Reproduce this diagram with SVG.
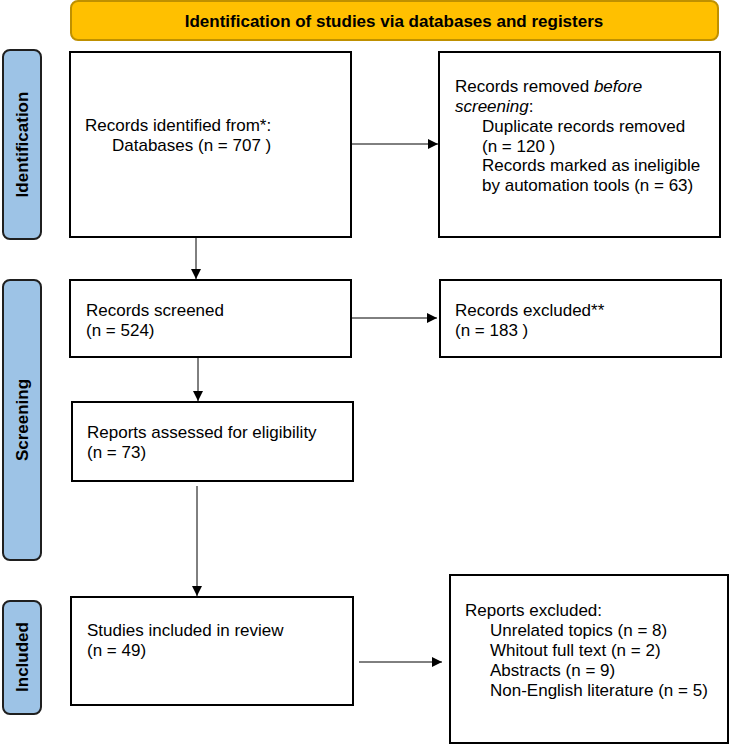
<svg xmlns="http://www.w3.org/2000/svg" width="731" height="745" viewBox="0 0 731 745">
<style>
.box{fill:#fff;stroke:#000;stroke-width:2}
.side{fill:#9DC3E6;stroke:#1f1f1f;stroke-width:2}
.t{font-family:"Liberation Sans",Arial,sans-serif;font-size:17px;fill:#000}
.sl{font-family:"Liberation Sans",Arial,sans-serif;font-size:17px;font-weight:bold;fill:#000;text-anchor:middle}
.c{stroke:#000;stroke-width:1;fill:none;marker-end:url(#ah)}
</style>
<defs>
<marker id="ah" viewBox="0 0 10 10" refX="10" refY="5" markerWidth="10" markerHeight="10" markerUnits="userSpaceOnUse" orient="auto">
<path d="M0,0 L10,5 L0,10 Z" fill="#000"/>
</marker>
</defs>
<g id="header">
<rect x="71" y="1" width="647" height="39" rx="7" fill="#FFC000" stroke="#BF9000" stroke-width="2"/>
<text x="394" y="27" class="sl">Identification of studies via databases and registers</text>
</g>
<g id="side-identification">
<rect x="3" y="50" width="38" height="189" rx="7" class="side"/>
<text class="sl" transform="translate(28,144.5) rotate(-90)">Identification</text>
</g>
<g id="side-screening">
<rect x="3" y="280" width="38" height="280" rx="7" class="side"/>
<text class="sl" transform="translate(28,420) rotate(-90)">Screening</text>
</g>
<g id="side-included">
<rect x="3" y="601" width="38" height="113" rx="7" class="side"/>
<text class="sl" transform="translate(28,657) rotate(-90)">Included</text>
</g>
<g id="identified">
<rect x="70" y="52" width="281" height="185" class="box"/>
<text class="t" x="85" y="131">Records identified from*:</text>
<text class="t" x="112" y="151">Databases (n = 707 )</text>
</g>
<g id="removed">
<rect x="439" y="52" width="281" height="185" class="box"/>
<text class="t" x="455" y="92">Records removed <tspan font-style="italic">before</tspan></text>
<text class="t" x="455" y="112"><tspan font-style="italic">screening</tspan>:</text>
<text class="t" x="482" y="132">Duplicate records removed</text>
<text class="t" x="482" y="152">(n = 120 )</text>
<text class="t" x="482" y="171">Records marked as ineligible</text>
<text class="t" x="482" y="191">by automation tools (n = 63)</text>
</g>
<g id="screened">
<rect x="70" y="280" width="281" height="77" class="box"/>
<text class="t" x="86" y="316">Records screened</text>
<text class="t" x="86" y="336">(n = 524)</text>
</g>
<g id="excluded">
<rect x="440" y="280" width="281" height="77" class="box"/>
<text class="t" x="455" y="316">Records excluded**</text>
<text class="t" x="455" y="336">(n = 183 )</text>
</g>
<g id="assessed">
<rect x="72" y="402" width="281" height="79" class="box"/>
<text class="t" x="87" y="438">Reports assessed for eligibility</text>
<text class="t" x="87" y="458">(n = 73)</text>
</g>
<g id="included">
<rect x="71" y="597" width="282" height="108" class="box"/>
<text class="t" x="87" y="636">Studies included in review</text>
<text class="t" x="87" y="656">(n = 49)</text>
</g>
<g id="reports-excluded">
<rect x="450" y="575" width="278" height="168" class="box"/>
<text class="t" x="465" y="616">Reports excluded:</text>
<text class="t" x="490" y="636">Unrelated topics (n = 8)</text>
<text class="t" x="490" y="656">Whitout full text (n = 2)</text>
<text class="t" x="490" y="676">Abstracts (n = 9)</text>
<text class="t" x="490" y="696">Non-English literature (n = 5)</text>
</g>
<g id="connectors">
<line x1="351" y1="144" x2="438" y2="144" class="c"/>
<line x1="196" y1="237" x2="196" y2="279" class="c"/>
<line x1="351" y1="318" x2="437" y2="318" class="c"/>
<line x1="198" y1="357" x2="198" y2="401" class="c"/>
<line x1="197" y1="486" x2="197" y2="596" class="c"/>
<line x1="359" y1="662" x2="442" y2="662" class="c"/>
</g>
</svg>
